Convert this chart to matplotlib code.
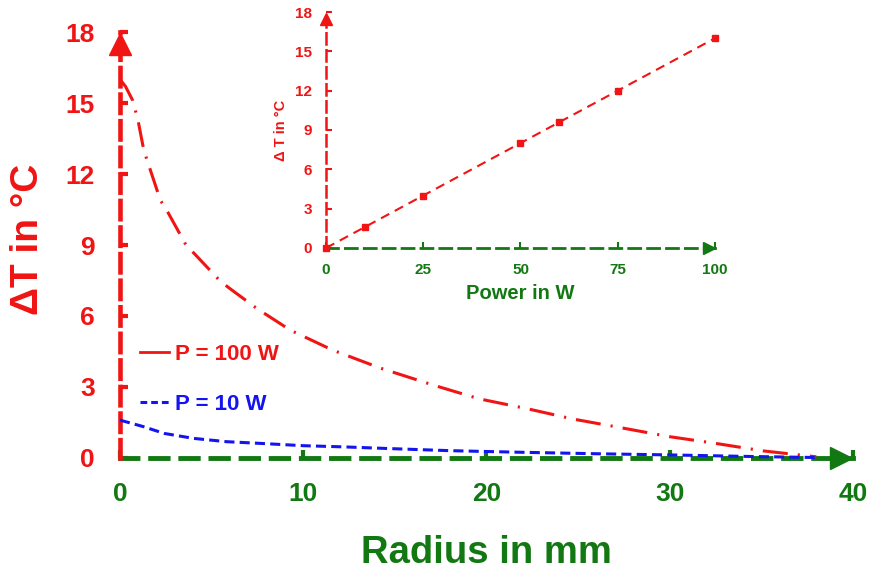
import matplotlib
matplotlib.use("Agg")
import matplotlib.pyplot as plt
from matplotlib.lines import Line2D

plt.rcParams['font.family'] = ['Liberation Sans', 'DejaVu Sans']

RED = '#f01414'
GREEN = '#127812'
BLUE = '#1414f0'

# ---- main chart data ----
r_100 = [0, 0.3, 0.7, 1.0, 1.3, 1.6, 2.2, 2.6, 3.6, 4.1, 5.5, 6.1, 7.5, 9.3, 11.6,
         14.2, 17.1, 19.6, 22.3, 24.7, 27.4, 30.0, 32.4, 35.1, 38.0]
dT_100 = [16.0, 15.7, 15.1, 14.2, 13.0, 12.3, 10.9, 10.4, 9.0, 8.6, 7.45, 7.1, 6.3, 5.4, 4.56,
          3.8, 3.08, 2.5, 2.07, 1.65, 1.27, 0.9, 0.63, 0.3, 0.05]
r_10 = [0, 1.3, 2.4, 4.0, 5.8, 7.6, 10.0, 12.2, 15.0, 18.0, 22.0, 26.0, 30.0, 34.0, 38.0]
dT_10 = [1.6, 1.32, 1.04, 0.83, 0.69, 0.62, 0.52, 0.47, 0.39, 0.31, 0.24, 0.18, 0.13, 0.07, 0.02]
x_ticks = [0, 10, 20, 30, 40]
y_ticks = [0, 3, 6, 9, 12, 15, 18]
labels = ['P = 100 W', 'P = 10 W']

# ---- inset data ----
power = [0, 10, 25, 50, 60, 75, 100]
dT_power = [0, 1.6, 4, 8, 9.6, 12, 16]
inset_x_ticks = [0, 25, 50, 75, 100]
inset_y_ticks = [0, 3, 6, 9, 12, 15, 18]

fig = plt.figure(figsize=(8.72, 5.69), dpi=100)
ax = fig.add_axes([0.13761, 0.19508, 0.84060, 0.74868])

ax.plot(r_100, dT_100, color=RED, lw=2.2, linestyle=(0, (8.2, 3.3, 0.7, 3.3)),
        clip_on=False, zorder=3)
ax.plot(r_10, dT_10, color=BLUE, lw=2.2, linestyle=(0, (3.3, 1.7)),
        clip_on=False, zorder=3)

ax.set_xlim(0, 40)
ax.set_ylim(0, 18)
ax.set_xticks(x_ticks)
ax.set_yticks(y_ticks)
for s in ['top', 'right']:
    ax.spines[s].set_visible(False)
ax.spines['left'].set_color(RED)
ax.spines['left'].set_linewidth(3.3)
ax.spines['left'].set_linestyle((0, (4, 1.8)))
ax.spines['bottom'].set_color(GREEN)
ax.spines['bottom'].set_linewidth(3.5)
ax.spines['bottom'].set_linestyle((0, (3.6, 2.6)))
ax.spines['bottom'].set_zorder(2)

ax.tick_params(axis='y', direction='in', length=6, width=3, color=RED,
               labelcolor=RED, labelsize=19, pad=18)
ax.tick_params(axis='x', direction='in', length=6, width=3, color=GREEN,
               labelcolor=GREEN, labelsize=19, pad=17)
for t in ax.get_xticklabels() + ax.get_yticklabels():
    t.set_fontweight('bold')

ax.plot(0, 0.972, '^', ms=16, color=RED, transform=ax.get_xaxis_transform(), clip_on=False)
ax.plot(0.9836, 0, '>', ms=16, color=GREEN, transform=ax.get_yaxis_transform(), clip_on=False)

ax.set_ylabel('ΔT in °C', fontsize=28, fontweight='bold', color=RED)
ax.yaxis.set_label_coords(-0.101, 0.514)
ax.set_xlabel('Radius in mm', fontsize=27.5, fontweight='bold', color=GREEN)
ax.xaxis.set_label_coords(0.5, -0.180)

handles = [Line2D([], [], color=RED, lw=2.0),
           Line2D([], [], color=BLUE, lw=2.2, linestyle=(0, (2.2, 1.3)))]
leg = ax.legend(handles, labels, loc='upper left', bbox_to_anchor=(0.027, 0.268),
                frameon=False, borderpad=0, borderaxespad=0, handlelength=1.3,
                handletextpad=0.3, labelspacing=1.32,
                prop={'size': 16, 'weight': 'bold'})
for txt, c in zip(leg.get_texts(), [RED, BLUE]):
    txt.set_color(c)

# ---- inset ----
ins = fig.add_axes([0.37385, 0.56415, 0.44610, 0.41476])
ins.patch.set_alpha(0)
ins.plot(power, dT_power, color=RED, lw=1.5, linestyle=(0, (4.5, 3)),
         marker='s', ms=4.5, clip_on=False, zorder=3)
ins.set_xlim(0, 100)
ins.set_ylim(0, 18)
ins.set_xticks(inset_x_ticks)
ins.set_yticks(inset_y_ticks)
for s in ['top', 'right']:
    ins.spines[s].set_visible(False)
ins.spines['left'].set_color(RED)
ins.spines['left'].set_linewidth(1.8)
ins.spines['left'].set_linestyle((0, (4.5, 2.3)))
ins.spines['bottom'].set_color(GREEN)
ins.spines['bottom'].set_linewidth(2.0)
ins.spines['bottom'].set_linestyle((0, (4.3, 2.5)))
ins.tick_params(axis='y', direction='in', length=4, width=1.5, color=RED,
                labelcolor=RED, labelsize=11, pad=10)
ins.tick_params(axis='x', direction='in', length=4, width=1.5, color=GREEN,
                labelcolor=GREEN, labelsize=11, pad=11)
for t in ins.get_xticklabels() + ins.get_yticklabels():
    t.set_fontweight('bold')
ins.plot(0, 0.972, '^', ms=8, color=RED, transform=ins.get_xaxis_transform(), clip_on=False)
ins.plot(0.985, 0, '>', ms=8.5, color=GREEN, transform=ins.get_yaxis_transform(), clip_on=False)
ins.set_xlabel('Power in W', fontsize=14.5, fontweight='bold', color=GREEN)
ins.xaxis.set_label_coords(0.5, -0.152)
ins.set_ylabel('Δ T in °C', fontsize=10.5, fontweight='bold', color=RED)
ins.yaxis.set_label_coords(-0.097, 0.5)

fig.savefig('out.png', dpi=100)
